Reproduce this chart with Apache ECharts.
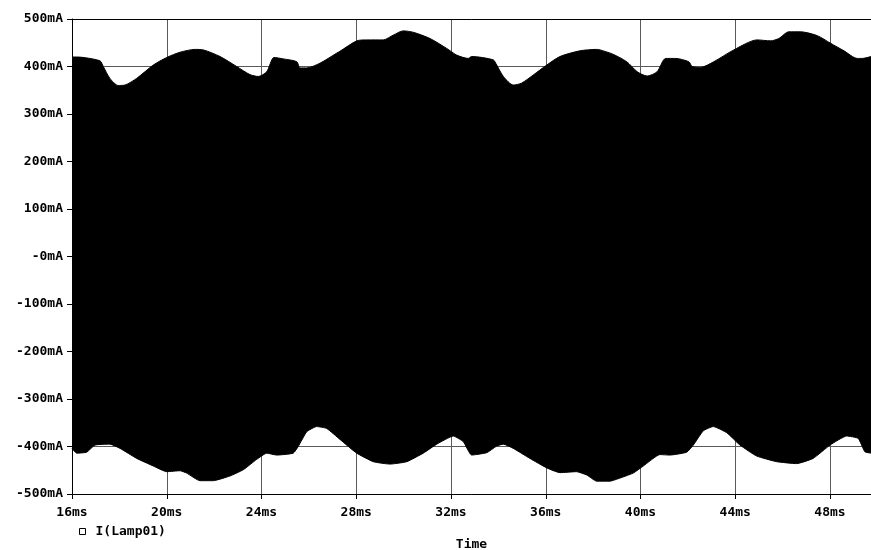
<!DOCTYPE html>
<html>
<head>
<meta charset="utf-8">
<script src="https://cdn.jsdelivr.net/npm/echarts@6/dist/echarts.min.js"></script>
<style>
html,body{margin:0;padding:0;background:#fff;}
#chart{width:871px;height:550px;}
</style>
</head>
<body>
<div id="chart"></div>
<script>
// Upper envelope (time in ms, current in mA)
var upperT = [16.0, 16.05, 16.2, 17.18, 17.32, 17.60, 17.95, 18.24, 18.73, 19.43, 20.00, 20.56, 21.19, 21.54, 22.25, 22.95, 23.51, 23.86, 24.22, 24.53, 24.92, 25.49, 25.62, 25.91, 26.47, 27.17, 27.31, 28.02, 28.44, 29.14, 29.56, 29.98, 30.41, 31.11, 31.82, 32.24, 32.73, 32.87, 33.78, 33.93, 34.21, 34.63, 34.98, 35.47, 36.04, 36.60, 37.44, 38.15, 38.29, 38.83, 39.42, 39.86, 40.28, 40.70, 41.06, 41.48, 42.04, 42.18, 42.53, 43.09, 43.94, 44.92, 45.49, 45.84, 46.26, 46.76, 47.46, 48.02, 48.59, 49.15, 49.36, 49.73];
var upperI = [418, 420, 420, 412, 400, 375, 360, 361, 375, 403, 419, 430, 436, 435, 421, 400, 383, 379, 389, 419, 416, 410, 397, 397, 407, 428, 432, 454, 456, 456, 466, 475, 472, 459, 438, 424, 417, 421, 414, 403, 379, 361, 365, 382, 403, 421, 433, 436, 435, 426, 410, 389, 380, 389, 417, 417, 410, 400, 398, 410, 435, 456, 454, 459, 473, 473, 465, 449, 433, 417, 417, 421];
// Lower envelope
var lowerT = [16.0, 16.2, 16.62, 16.97, 17.60, 18.03, 18.73, 19.43, 20.00, 20.56, 20.84, 21.40, 21.96, 22.67, 23.23, 23.80, 24.22, 24.64, 25.34, 25.55, 25.91, 26.33, 26.75, 27.31, 28.02, 28.72, 29.42, 30.13, 30.83, 31.40, 32.10, 32.52, 32.87, 33.51, 33.93, 34.21, 34.63, 35.33, 36.04, 36.60, 37.30, 37.73, 38.15, 38.71, 38.99, 39.69, 40.12, 40.82, 41.24, 41.95, 42.23, 42.65, 43.07, 43.64, 44.20, 44.90, 45.75, 46.59, 47.29, 48.00, 48.70, 49.19, 49.47, 49.73];
var lowerI = [-404, -414, -412, -397, -395, -404, -425, -441, -453, -451, -456, -472, -472, -462, -449, -427, -414, -418, -414, -400, -369, -358, -362, -385, -414, -432, -437, -432, -414, -395, -378, -390, -418, -413, -399, -395, -404, -425, -445, -455, -453, -460, -473, -473, -469, -456, -441, -417, -418, -412, -397, -367, -358, -371, -397, -420, -432, -436, -425, -397, -378, -383, -411, -414];

var xTicks = [16, 20, 24, 28, 32, 36, 40, 44, 48];
var xTickLabels = ['16ms', '20ms', '24ms', '28ms', '32ms', '36ms', '40ms', '44ms', '48ms'];
var yTicks = [-500, -400, -300, -200, -100, 0, 100, 200, 300, 400, 500];
var yTickLabels = ['-500mA', '-400mA', '-300mA', '-200mA', '-100mA', '-0mA', '100mA', '200mA', '300mA', '400mA', '500mA'];
var seriesName = 'I(Lamp01)';

function zip(a, b) { return a.map(function (v, i) { return [v, b[i]]; }); }

var FONT = 'DejaVu Sans Mono';
var chart = echarts.init(document.getElementById('chart'), null, { renderer: 'canvas' });
chart.setOption({
  animation: false,
  backgroundColor: '#ffffff',
  grid: { left: 72, right: 0, top: 19, bottom: 56, containLabel: false, outerBoundsMode: 'none' },
  legend: {
    data: [{ name: seriesName, icon: 'rect', itemStyle: { color: '#ffffff', borderColor: '#000000', borderWidth: 1 } }],
    left: 74, top: 520, itemWidth: 6, itemHeight: 6, itemGap: 8,
    textStyle: { fontFamily: FONT, fontWeight: 'bold', fontSize: 13, color: '#000', padding: [0, 0, 0, 5] }
  },
  xAxis: [{
    type: 'value', min: 16, max: 49.73, interval: 4,
    name: 'Time', nameLocation: 'middle', nameGap: 44,
    nameTextStyle: { fontFamily: FONT, fontWeight: 'bold', fontSize: 13, color: '#000' },
    axisLine: { show: true, onZero: false, lineStyle: { color: '#000', width: 1 } },
    axisTick: { show: true, length: 5, lineStyle: { color: '#000' } },
    axisLabel: {
      margin: 12, fontFamily: FONT, fontWeight: 'bold', fontSize: 13, color: '#000',
      formatter: function (v) { var i = xTicks.indexOf(Math.round(v * 1000) / 1000); return i >= 0 ? xTickLabels[i] : ''; }
    },
    splitLine: { show: true, lineStyle: { color: '#5a5a5a', width: 1 } }
  }, {
    type: 'value', position: 'top', min: 16, max: 49.73,
    axisLine: { show: true, onZero: false, lineStyle: { color: '#000', width: 1 } },
    axisTick: { show: false }, axisLabel: { show: false }, splitLine: { show: false }
  }],
  yAxis: {
    type: 'value', min: -500, max: 500, interval: 100,
    axisLine: { show: true, onZero: false, lineStyle: { color: '#000', width: 1 } },
    axisTick: { show: true, length: 5, lineStyle: { color: '#000' } },
    axisLabel: {
      margin: 9, fontFamily: FONT, fontWeight: 'bold', fontSize: 13, color: '#000',
      formatter: function (v) { var i = yTicks.indexOf(Math.round(v)); return i >= 0 ? yTickLabels[i] : ''; }
    },
    splitLine: { show: true, lineStyle: { color: '#5a5a5a', width: 1 } }
  },
  series: [{
    name: seriesName, type: 'line', data: zip(upperT, upperI), showSymbol: false, symbol: 'none',
    smooth: 0.25,
    lineStyle: { color: '#000', width: 1 }, itemStyle: { color: '#000' },
    areaStyle: { color: '#000', opacity: 1, origin: -20 }, z: 3
  }, {
    name: seriesName, type: 'line', data: zip(lowerT, lowerI), showSymbol: false, symbol: 'none',
    smooth: 0.15,
    lineStyle: { color: '#000', width: 1 }, itemStyle: { color: '#000' },
    areaStyle: { color: '#000', opacity: 1, origin: 20 }, z: 3
  }]
});
</script>
</body>
</html>
